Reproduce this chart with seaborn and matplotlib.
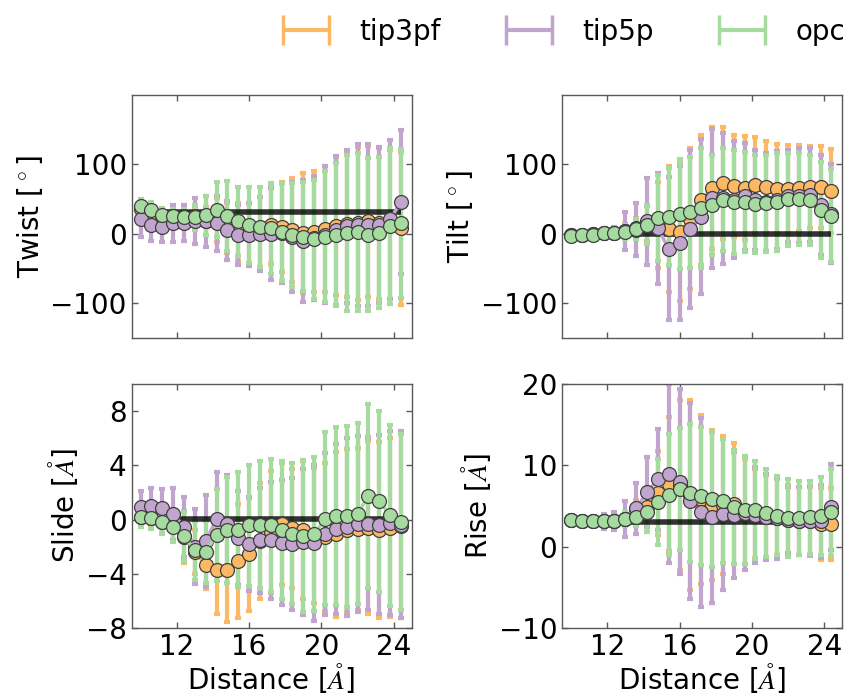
import numpy as np
import matplotlib
matplotlib.use("Agg")
import matplotlib.pyplot as plt
import seaborn as sns
from matplotlib.container import ErrorbarContainer
from matplotlib.legend_handler import HandlerErrorbar

# ---------------- data ----------------
distance = [10.0, 10.6, 11.2, 11.8, 12.4, 13.0, 13.6, 14.2, 14.8, 15.4, 16.0, 16.6, 17.2,
            17.8, 18.4, 19.0, 19.6, 20.2, 20.8, 21.4, 22.0, 22.6, 23.2, 23.8, 24.4]

models = ["tip3pf", "tip5p", "opc"]
colors = ["#fdb863", "#c2a5cf", "#a6dba0"]

twist_tip3pf = [36, 30, 26, 24, 24, 24, 18, 20, 8, 3, 0, 3, 13, 10, 6, 1, 3, 7, 11, 14, 15, 18, 15, 13, 8]
twist_tip3pf_err = [10, 10, 10, 10, 10, 12, 20, 32, 36, 42, 44, 50, 56, 65, 75, 86, 87, 91, 99, 105, 110, 109, 108, 107, 110]
twist_tip5p = [22, 13, 10, 15, 16, 18, 18, 15, 5, -1, -1, 0, 0, 1, -4, -10, -6, -1, 5, 11, 13, 13, 13, 21, 46]
twist_tip5p_err = [26, 23, 21, 26, 26, 33, 37, 40, 42, 43, 45, 53, 66, 72, 79, 88, 89, 99, 107, 110, 116, 116, 112, 114, 103]
twist_opc = [40, 34, 27, 26, 24, 24, 27, 35, 26, 18, 13, 10, 8, 3, -2, -4, -8, -4, -1, 1, 3, -1, 2, 11, 15]
twist_opc_err = [10, 12, 10, 10, 12, 18, 28, 40, 50, 50, 55, 58, 65, 70, 75, 78, 85, 94, 103, 112, 114, 110, 108, 112, 107]
twist_ref = 31

tilt_tip3pf = [-2, -1, 0, 1, 2, 4, 8, 15, 13, 7, 3, 22, 49, 66, 73, 69, 66, 70, 67, 65, 65, 66, 68, 68, 62]
tilt_tip3pf_err = [3, 3, 3, 4, 6, 10, 15, 25, 62, 91, 100, 101, 93, 88, 80, 73, 75, 69, 66, 64, 63, 62, 59, 59, 60]
tilt_tip5p = [-2, -1, 0, 1, 2, 4, 6, 18, 8, -21, -13, 7, 25, 51, 51, 49, 54, 49, 46, 49, 54, 55, 56, 42, 29]
tilt_tip5p_err = [4, 4, 4, 5, 8, 27, 38, 62, 80, 103, 111, 113, 111, 100, 94, 84, 77, 72, 71, 70, 66, 68, 68, 72, 71]
tilt_opc = [-3, -2, -1, 1, 1, 3, 7, 13, 23, 25, 28, 31, 37, 42, 49, 46, 46, 43, 44, 46, 50, 50, 49, 34, 26]
tilt_opc_err = [3, 3, 3, 4, 5, 10, 14, 28, 62, 70, 79, 80, 86, 72, 74, 75, 72, 71, 70, 70, 67, 66, 65, 69, 67]
tilt_ref = 0

slide_tip3pf = [0.2, 0.1, -0.2, -0.4, -1.3, -2.4, -3.34, -3.75, -3.75, -3.07, -2.58, -1.6, -0.9,
                -0.32, -0.64, -0.76, -1.18, -1.3, -1.1, -0.81, -0.69, -0.61, -0.76, -0.61, -0.49]
slide_tip3pf_err = [0.6, 0.7, 0.8, 1.2, 1.9, 1.65, 1.8, 3.2, 3.8, 4.2, 4.2, 4.3, 4.5, 4.5, 4.4,
                    5.1, 5.0, 5.5, 6.1, 6.0, 6.0, 6.4, 6.5, 6.6, 6.8]
slide_tip5p = [0.9, 1.0, 0.86, 0.42, -0.56, -2.0, -1.6, 0.05, -0.3, -1.37, -1.8, -1.55, -1.55,
               -1.7, -1.8, -1.67, -1.74, -1.05, -0.69, -0.56, -0.32, -0.32, -0.37, -0.27, -0.39]
slide_tip5p_err = [1.2, 1.3, 1.4, 1.9, 2.2, 2.8, 3.4, 3.45, 3.6, 3.5, 3.5, 3.9, 4.3, 4.6, 4.9,
                   5.4, 5.8, 6.0, 6.3, 6.6, 6.5, 6.4, 6.6, 6.8, 6.9]
slide_opc = [0.17, 0.1, -0.2, -0.56, -1.25, -2.28, -2.4, -1.13, -0.76, -0.76, -0.44, -0.37, -0.44,
             -0.74, -1.05, -1.23, -1.1, 0.05, 0.25, 0.25, 0.42, 1.77, 1.35, 0.3, -0.2]
slide_opc_err = [0.7, 0.8, 0.9, 1.1, 1.8, 2.2, 2.3, 3.4, 3.9, 4.25, 4.5, 4.66, 4.95, 5.1, 5.2,
                 5.6, 5.7, 6.4, 6.6, 6.7, 6.7, 6.8, 6.7, 6.7, 6.5]
slide_ref = 0.05

rise_tip3pf = [3.3, 3.2, 3.2, 3.1, 3.1, 3.4, 4.5, 4.9, 6.6, 7.7, 7.6, 6.4, 5.8, 5.1, 5.1, 5.3,
               4.3, 4.1, 3.7, 3.5, 3.3, 3.2, 3.1, 2.8, 2.8]
rise_tip3pf_err = [0.4, 0.4, 0.5, 0.6, 0.8, 0.9, 1.2, 2.5, 5.2, 8.3, 10.5, 11.7, 10.4, 9.25, 8.5,
                   7.5, 6.5, 5.5, 5.1, 4.8, 4.3, 4.2, 4.3, 4.4, 4.4]
rise_tip5p = [3.3, 3.2, 3.1, 3.1, 3.1, 3.4, 4.7, 6.7, 8.3, 9.0, 8.0, 5.6, 4.2, 3.6, 4.0, 3.9,
              4.1, 3.9, 3.7, 3.5, 3.3, 3.2, 3.2, 3.1, 4.9]
rise_tip5p_err = [0.5, 0.5, 0.6, 0.9, 1.1, 2.2, 3.1, 4.3, 6.2, 11.0, 11.4, 12.1, 11.6, 10.5, 9.3,
                  7.8, 7.0, 5.9, 5.3, 5.0, 4.1, 4.2, 4.3, 4.5, 5.3]
rise_opc = [3.3, 3.2, 3.2, 3.1, 3.1, 3.4, 3.7, 4.3, 5.5, 6.4, 7.1, 6.6, 6.2, 5.8, 5.6, 4.9,
            4.5, 4.5, 4.1, 3.8, 3.5, 3.5, 3.6, 3.8, 4.2]
rise_opc_err = [0.3, 0.3, 0.3, 0.4, 0.5, 0.9, 1.2, 2.5, 5.3, 7.5, 7.5, 8.5, 8.5, 8.3, 7.6, 7.0,
                6.7, 6.0, 5.4, 4.9, 4.8, 4.6, 4.5, 4.8, 5.4]
rise_ref = 3.0

ylabels = ["Twist [$^\\circ$]", "Tilt [$^\\circ$]", "Slide [$\\AA$]", "Rise [$\\AA$]"]
ylabel_math = ["cm", "cm", "stix", "stix"]
xlabel = "Distance [$\\AA$]"
xticks = [12, 16, 20, 24]

# ---------------- style ----------------
sns.set_style("white", {
    "axes.edgecolor": "0.35",
    "xtick.direction": "in",
    "ytick.direction": "in",
    "xtick.top": True,
    "ytick.right": True,
    "xtick.bottom": True,
    "ytick.left": True,
    "xtick.color": "0.35",
    "ytick.color": "0.35",
    "axes.grid": False,
    "text.color": "black",
    "axes.labelcolor": "black",
})
plt.rcParams["font.family"] = ["DejaVu Sans"]
plt.rcParams["mathtext.fontset"] = "stix"
plt.rcParams["xtick.labelcolor"] = "black"
plt.rcParams["ytick.labelcolor"] = "black"
plt.rcParams["axes.linewidth"] = 1.0

fig, axes = plt.subplots(2, 2, figsize=(8.49, 6.97), dpi=100)
fig.subplots_adjust(left=0.155, right=0.992, top=0.864, bottom=0.0994, wspace=0.536, hspace=0.189)

panels = [
    (axes[0, 0], [twist_tip3pf, twist_tip5p, twist_opc], [twist_tip3pf_err, twist_tip5p_err, twist_opc_err],
     twist_ref, (-150, 200), [-100, 0, 100]),
    (axes[0, 1], [tilt_tip3pf, tilt_tip5p, tilt_opc], [tilt_tip3pf_err, tilt_tip5p_err, tilt_opc_err],
     tilt_ref, (-150, 200), [-100, 0, 100]),
    (axes[1, 0], [slide_tip3pf, slide_tip5p, slide_opc], [slide_tip3pf_err, slide_tip5p_err, slide_opc_err],
     slide_ref, (-8, 10), [-8, -4, 0, 4, 8]),
    (axes[1, 1], [rise_tip3pf, rise_tip5p, rise_opc], [rise_tip3pf_err, rise_tip5p_err, rise_opc_err],
     rise_ref, (-10, 20), [-10, 0, 10, 20]),
]

for k, (ax, means, errs, ref, ylim, yticks) in enumerate(panels):
    for j in range(3):
        ax.errorbar(distance, means[j], yerr=errs[j], fmt="none", ecolor=colors[j],
                    elinewidth=3.0, capsize=2, capthick=3, zorder=1 + 0.1 * j)
    ax.hlines(ref, distance[0], distance[-1], color="black", lw=4, alpha=0.8, zorder=2)
    for j in range(3):
        sns.lineplot(x=distance, y=means[j], ax=ax, color=colors[j], lw=2.5, marker="o",
                     markersize=10, markeredgecolor="#404040", markeredgewidth=0.9,
                     zorder=3 + 0.1 * j, sort=False)
    ax.set_xlim(9.5, 25)
    ax.set_ylim(*ylim)
    ax.set_yticks(yticks)
    ax.set_xticks(xticks)
    ax.set_ylabel(ylabels[k], fontsize=20, math_fontfamily=ylabel_math[k])
    ax.tick_params(labelsize=20, length=4, width=1)
    if k < 2:
        ax.set_xticklabels([])
        ax.set_xlabel("")
    else:
        ax.set_xlabel(xlabel, fontsize=20, labelpad=0)

# legend proxies (horizontal error-bar glyphs)
handles = []
for j in range(3):
    h = axes[0, 0].errorbar([np.nan], [np.nan], xerr=[1], fmt="none", ecolor=colors[j],
                            elinewidth=3, capsize=11, capthick=2.5, label=models[j])
    handles.append(h)
fig.legend(handles, models, loc="upper right", bbox_to_anchor=(1.025, 1.01), ncol=3,
           frameon=False, fontsize=20, handlelength=1.65, handletextpad=1.1,
           columnspacing=2.35, handler_map={ErrorbarContainer: HandlerErrorbar(xerr_size=0.82)})

fig.savefig("out.png", dpi=100)
